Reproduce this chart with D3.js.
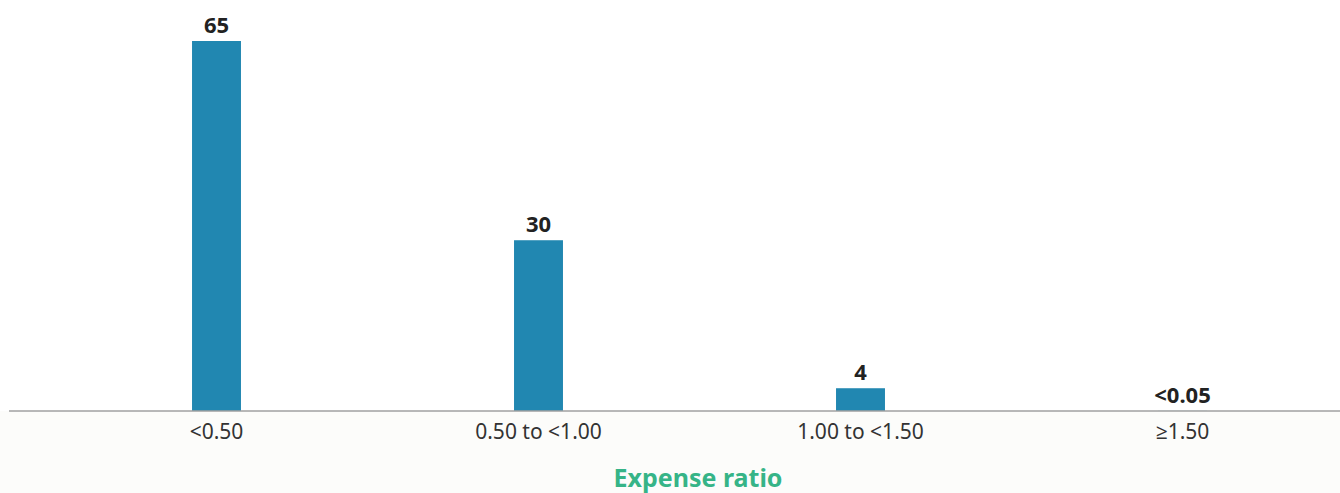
<!DOCTYPE html>
<html>
<head>
<meta charset="utf-8">
<script src="https://cdn.jsdelivr.net/npm/d3@7"></script>
<style>
  body { margin: 0; background: #ffffff; }
  svg { display: block; font-family: "Noto Sans", "Open Sans", sans-serif; }
</style>
</head>
<body>
<svg id="chart"></svg>
<script>
var categories = ['<0.50', '0.50 to <1.00', '1.00 to <1.50', '\u22651.50'];
var values = [65, 30, 4, 0.02];
var valueLabels = ['65', '30', '4', '<0.05'];
var axisTitle = 'Expense ratio';

var width = 1340, height = 493,
  baseline = 411;

var svg = d3.select('#chart')
  .attr('width', width)
  .attr('height', height);

// light band under the axis
svg.append('rect')
  .attr('x', 0)
  .attr('y', baseline)
  .attr('width', width)
  .attr('height', height - baseline)
  .attr('fill', '#fcfcfa');

var x = d3.scaleBand()
  .domain(categories)
  .range([55.5, 1343.5])
  .paddingInner(0.848)
  .paddingOuter(0.424);

var y = d3.scaleLinear()
  .domain([0, 65])
  .range([baseline, 41]);

svg.selectAll('rect.bar')
  .data(values)
  .enter()
  .append('rect')
    .attr('class', 'bar')
    .attr('x', function (d, i) { return x(categories[i]); })
    .attr('y', function (d) { return y(d); })
    .attr('width', x.bandwidth())
    .attr('height', function (d) { return baseline - y(d); })
    .attr('fill', '#2187b1');

svg.selectAll('text.value')
  .data(values)
  .enter()
  .append('text')
    .attr('class', 'value')
    .attr('x', function (d, i) { return x(categories[i]) + x.bandwidth() / 2; })
    .attr('y', function (d) { return y(d) - 8; })
    .attr('text-anchor', 'middle')
    .attr('font-size', 22)
    .attr('font-weight', 'bold')
    .attr('fill', '#222')
    .text(function (d, i) { return valueLabels[i]; });

var xAxis = d3.axisBottom(x).tickSize(0).tickPadding(13);

var axisG = svg.append('g')
  .attr('transform', 'translate(0,' + baseline + ')')
  .call(xAxis);

axisG.select('.domain').remove();
axisG.selectAll('text')
  .attr('font-size', 21)
  .attr('font-family', '"Noto Sans", "Open Sans", sans-serif')
  .attr('fill', '#333');

svg.append('line')
  .attr('x1', 9)
  .attr('x2', width)
  .attr('y1', baseline)
  .attr('y2', baseline)
  .attr('stroke', '#a0a0a0')
  .attr('stroke-width', 1.5);

svg.append('text')
  .attr('x', 698)
  .attr('y', 487)
  .attr('text-anchor', 'middle')
  .attr('font-size', 25)
  .attr('font-weight', 'bold')
  .attr('fill', '#36b487')
  .text(axisTitle);
</script>
</body>
</html>
